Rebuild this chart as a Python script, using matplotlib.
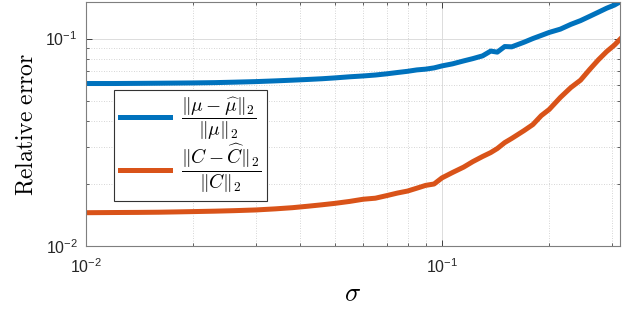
import matplotlib
matplotlib.use("Agg")
import matplotlib.pyplot as plt
from matplotlib.font_manager import FontProperties
from matplotlib.ticker import LogLocator, FixedLocator, FuncFormatter, NullFormatter
import math

sigma = [0.010, 0.012, 0.014, 0.016, 0.018, 0.020, 0.023, 0.026, 0.030, 0.034,
         0.038, 0.042, 0.046, 0.050, 0.055, 0.060, 0.065, 0.070, 0.075, 0.080,
         0.085, 0.090, 0.095, 0.100, 0.107, 0.115, 0.122, 0.130, 0.137, 0.143,
         0.150, 0.157, 0.170, 0.180, 0.190, 0.200, 0.215, 0.230, 0.245, 0.260,
         0.275, 0.290, 0.305, 0.316]

err_mu = [0.0607, 0.0607, 0.0608, 0.0609, 0.0610, 0.0611, 0.0613, 0.0616, 0.0620, 0.0625,
          0.0630, 0.0635, 0.0640, 0.0646, 0.0654, 0.0660, 0.0667, 0.0676, 0.0686, 0.0695,
          0.0706, 0.0712, 0.0722, 0.0738, 0.0755, 0.0780, 0.0800, 0.0825, 0.0870, 0.0860,
          0.0915, 0.0912, 0.0960, 0.1000, 0.1035, 0.1070, 0.1110, 0.1170, 0.1220, 0.1280,
          0.1340, 0.1400, 0.1450, 0.1500]

err_C = [0.01447, 0.01450, 0.01452, 0.01455, 0.01460, 0.01465, 0.01472, 0.01480, 0.01492, 0.01510,
         0.01530, 0.01555, 0.01580, 0.01605, 0.01640, 0.01680, 0.01700, 0.01750, 0.01800, 0.01840,
         0.01900, 0.01960, 0.01990, 0.02130, 0.02260, 0.02400, 0.02550, 0.02700, 0.02820, 0.02950,
         0.03150, 0.03300, 0.03600, 0.03850, 0.04250, 0.04550, 0.05200, 0.05800, 0.06300, 0.07100,
         0.07900, 0.08650, 0.09300, 0.09900]

labels = [r'$\dfrac{\|\mu-\widehat{\mu}\|_2}{\|\mu\|_2}$',
          r'$\dfrac{\|C-\widehat{C}\|_2}{\|C\|_2}$']
major_ticks = [0.01, 0.1]
xlim = (0.01, 0.3162)
ylim = (0.01, 0.15)

fig = plt.figure(figsize=(6.28, 3.2), dpi=100)
ax = fig.add_axes([86/628, 1-246/320, 534/628, 244/320])

ax.plot(sigma, err_mu, color='#0072BD', lw=3.6, label=labels[0], solid_joinstyle='round')
ax.plot(sigma, err_C, color='#D95319', lw=3.6, label=labels[1], solid_joinstyle='round')
ax.set_xscale('log')
ax.set_yscale('log')
ax.set_xlim(*xlim)
ax.set_ylim(*ylim)

for axis in (ax.xaxis, ax.yaxis):
    axis.set_major_locator(FixedLocator(major_ticks))
    axis.set_minor_locator(LogLocator(base=10, subs=range(2, 10), numticks=20))
    axis.set_minor_formatter(NullFormatter())

def fmt(v, pos):
    e = int(round(math.log10(v)))
    return r'$\mathregular{10^{%d}}$' % e

ax.xaxis.set_major_formatter(FuncFormatter(fmt))
ax.yaxis.set_major_formatter(FuncFormatter(fmt))

edge = '#262626'
ax.tick_params(which='both', direction='in', top=True, right=True, color=edge,
               labelsize=11.5, labelcolor='#262626')
ax.tick_params(which='major', length=4, width=0.6)
ax.tick_params(which='minor', length=2.5, width=0.5)
ax.tick_params(axis='x', which='major', pad=8)
ax.tick_params(axis='y', which='major', pad=6)
for lab in ax.get_xticklabels() + ax.get_yticklabels():
    lab.set_family('Liberation Sans')
for s in ax.spines.values():
    s.set_color('#7f7f7f')
    s.set_linewidth(0.8)

ax.grid(True, which='major', color='#dcdcdc', lw=0.7, ls='-')
ax.grid(True, which='minor', color='#c8c8c8', lw=0.6, ls=(0, (1, 2)))
ax.set_axisbelow(True)

ax.set_ylabel(r'$\mathrm{Relative\ error}$', fontsize=17, math_fontfamily='cm', labelpad=6)
ax.set_xlabel(r'$\sigma$', fontsize=19, math_fontfamily='cm', labelpad=4)

leg = ax.legend(loc='upper left', bbox_to_anchor=(0.052, 0.639),
                prop=FontProperties(size=14, math_fontfamily='cm'),
                frameon=True, fancybox=False, borderpad=0.3, labelspacing=0.0,
                handlelength=2.6, handletextpad=0.55, borderaxespad=0)
leg.get_frame().set_edgecolor('#333333')
leg.get_frame().set_linewidth(0.8)
leg.get_frame().set_alpha(1)

fig.savefig('out.png', dpi=100)
